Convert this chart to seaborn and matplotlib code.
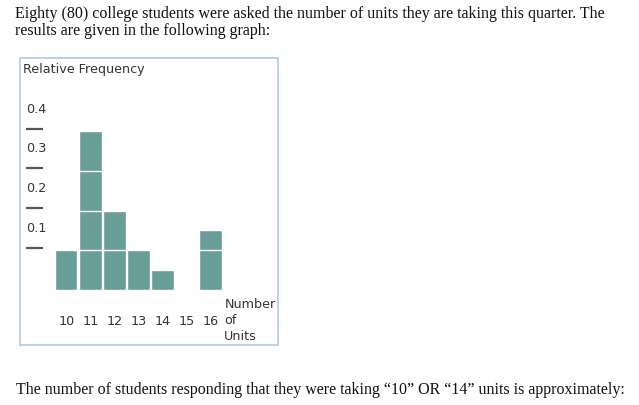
import numpy as np
import pandas as pd
import matplotlib
matplotlib.use("Agg")
import matplotlib.pyplot as plt
import seaborn as sns
from matplotlib.patches import Rectangle

# ---------------- data ----------------
units = ["10", "11", "12", "13", "14", "15", "16"]
rel_freq = [0.10, 0.40, 0.20, 0.10, 0.05, 0.00, 0.15]
block_levels = [0.3, 0.2, 0.1]          # block divisions drawn inside the bars
ytick_values = [0.1, 0.2, 0.3, 0.4]
ytick_labels = ["0.1", "0.2", "0.3", "0.4"]
ylabel_text = "Relative Frequency"
xlabel_text = "Number\nof\nUnits"
intro_lines = [
    "Eighty (80) college students were asked the number of units they are taking this quarter. The",
    "results are given in the following graph:",
]
question_text = ("The number of students responding that they were taking "
                 "\u201c10\u201d OR \u201c14\u201d units is approximately:")

# ---------------- style ----------------
W, H = 639, 406
BAR = "#689d98"
TXT = "#333333"
FS = 9.2
sns.set_theme(style="white")
plt.rcParams["font.family"] = ["DejaVu Sans"]

fig = plt.figure(figsize=(W / 100, H / 100), dpi=100)
fig.patch.set_facecolor("white")


def fx(px):
    return px / W


def fy(py):
    return 1 - py / H


# frame around the chart
fig.patches.append(Rectangle((fx(20), fy(345.7)), (277.7 - 20) / W, (345.7 - 59) / H,
                             transform=fig.transFigure, fill=False,
                             edgecolor="#aac5e3", linewidth=1.1))

# ---------------- bars ----------------
ax = fig.add_axes([fx(54.3), fy(291), 168.2 / W, 190.6 / H])
ax.set_facecolor("none")
df = pd.DataFrame({"units": units, "rel_freq": rel_freq})
for lvl in [None] + block_levels:
    h = df["rel_freq"] if lvl is None else np.minimum(df["rel_freq"], lvl)
    sns.barplot(data=df.assign(h=h), x="units", y="h", order=units,
                color=BAR, saturation=1, width=0.93, errorbar=None,
                edgecolor="white", linewidth=1.0, ax=ax)

ax.set_xlim(-0.5, len(units) - 0.5)
ax.set_ylim(0, 0.48)
ax.set_xlabel("")
ax.set_ylabel("")
for s in ["top", "right", "bottom"]:
    ax.spines[s].set_visible(False)
ax.spines["left"].set_position(("outward", 11.6 * 0.72))
ax.spines["left"].set_visible(True)
ax.spines["left"].set_color("none")

# dashes (major ticks) and numeric labels (minor ticks)
ax.set_yticks(np.array(ytick_values) + 0.006, [""] * len(ytick_values))
ax.set_yticks(np.array(ytick_values) + 0.062, ytick_labels, minor=True)
ax.tick_params(axis="y", which="major", left=True, direction="out",
               length=16.7 * 0.72, width=1.6, color="#555555")
ax.tick_params(axis="y", which="minor", left=True, length=0, pad=-3.7 * 0.72,
               labelsize=FS, labelcolor=TXT)
ax.tick_params(axis="x", which="both", length=0, pad=17.0, labelsize=FS,
               labelcolor=TXT)

# ---------------- chart texts ----------------
fig.text(fx(23.0), fy(72.5), ylabel_text, fontsize=FS, color=TXT, va="baseline")
fig.text(fx(224.3), fy(298.5), xlabel_text, fontsize=FS, color=TXT, va="top",
         linespacing=1.28)

# ---------------- paragraph texts ----------------
renderer = fig.canvas.get_renderer()


def fit_text(x, y, s, target_w, fs0=12):
    t = fig.text(fx(x), fy(y), s, family="Liberation Serif", fontsize=fs0,
                 color="#111111", va="baseline")
    w = t.get_window_extent(renderer).width
    t.set_fontsize(fs0 * target_w / w)
    return t


t1 = fit_text(15, 18.5, intro_lines[0], 593)
fig.text(fx(15), fy(34.8), intro_lines[1], family="Liberation Serif",
         fontsize=t1.get_fontsize(), color="#111111", va="baseline")
fit_text(16.5, 394, question_text, 611)

fig.savefig("out.png", dpi=100)
